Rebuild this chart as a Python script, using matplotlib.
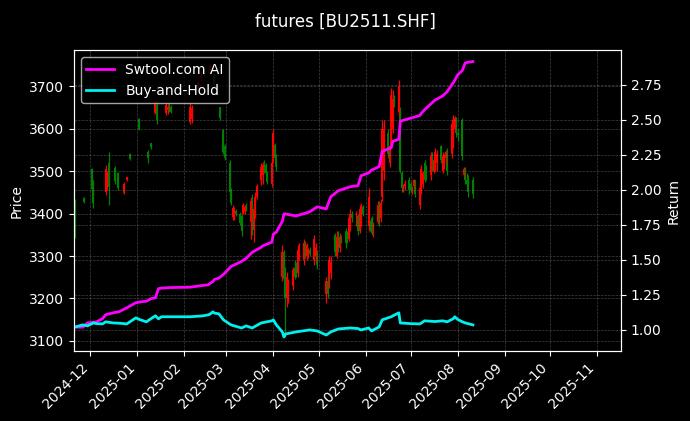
import numpy as np
import pandas as pd
import matplotlib
matplotlib.use('Agg')
import matplotlib.pyplot as plt
import matplotlib.dates as mdates

plt.style.use('dark_background')

# candle data (days with a visible bar only)
dates = [
    # Nov
    '2024-11-21', '2024-11-27',
    # Dec
    '2024-12-02', '2024-12-03', '2024-12-11', '2024-12-12', '2024-12-13', '2024-12-17',
    '2024-12-19', '2024-12-23', '2024-12-25', '2024-12-27',
    # Jan
    '2025-01-02', '2025-01-08', '2025-01-10', '2025-01-13', '2025-01-14', '2025-01-20',
    '2025-01-21', '2025-01-22', '2025-01-23',
    # Feb
    '2025-02-05', '2025-02-06', '2025-02-10', '2025-02-12', '2025-02-14', '2025-02-18',
    '2025-02-20', '2025-02-21', '2025-02-25', '2025-02-27', '2025-02-28',
    # Mar
    '2025-03-03', '2025-03-04', '2025-03-05', '2025-03-06', '2025-03-07', '2025-03-10',
    '2025-03-11', '2025-03-12', '2025-03-13', '2025-03-14', '2025-03-17', '2025-03-18',
    '2025-03-19', '2025-03-20', '2025-03-21', '2025-03-24', '2025-03-25', '2025-03-26',
    '2025-03-27', '2025-03-28', '2025-03-31',
    # Apr
    '2025-04-01', '2025-04-02', '2025-04-03', '2025-04-07', '2025-04-08', '2025-04-09',
    '2025-04-10', '2025-04-11', '2025-04-14', '2025-04-15', '2025-04-16', '2025-04-17',
    '2025-04-18', '2025-04-21', '2025-04-22', '2025-04-23', '2025-04-24', '2025-04-25',
    '2025-04-28', '2025-04-29', '2025-04-30',
    # May
    '2025-05-06', '2025-05-07', '2025-05-08', '2025-05-09', '2025-05-12', '2025-05-13',
    '2025-05-14', '2025-05-15', '2025-05-16', '2025-05-19', '2025-05-20', '2025-05-21',
    '2025-05-22', '2025-05-23', '2025-05-26', '2025-05-27', '2025-05-28', '2025-05-29',
    '2025-05-30',
    # Jun
    '2025-06-03', '2025-06-04', '2025-06-05', '2025-06-06', '2025-06-09', '2025-06-10',
    '2025-06-11', '2025-06-12', '2025-06-13', '2025-06-16', '2025-06-17', '2025-06-18',
    '2025-06-19', '2025-06-20', '2025-06-23', '2025-06-24', '2025-06-25', '2025-06-26',
    '2025-06-27', '2025-06-30',
    # Jul
    '2025-07-01', '2025-07-02', '2025-07-03', '2025-07-04', '2025-07-07', '2025-07-08',
    '2025-07-09', '2025-07-10', '2025-07-11', '2025-07-14', '2025-07-15', '2025-07-16',
    '2025-07-17', '2025-07-18', '2025-07-21', '2025-07-22', '2025-07-23', '2025-07-24',
    '2025-07-25', '2025-07-28', '2025-07-29', '2025-07-30', '2025-07-31',
    # Aug
    '2025-08-01', '2025-08-04', '2025-08-05', '2025-08-06', '2025-08-07', '2025-08-08',
    '2025-08-11',
]

opens = [
    3422, 3437,
    3505, 3468, 3450, 3470, 3520, 3508, 3495, 3449, 3478, 3541,
    3622, 3545, 3566, 3638, 3655, 3638, 3644, 3650, 3652,
    3615, 3622, 3700, 3720, 3735, 3740, 3750, 3725, 3650, 3596, 3560,
    3520, 3455, 3392, 3390, 3405, 3400, 3395, 3400, 3405, 3415, 3380, 3430,
    3362, 3400, 3440, 3478, 3490, 3520, 3515, 3495, 3470,
    3530, 3562, 3530, 3250, 3310, 3250, 3200, 3208, 3230, 3272, 3275, 3260,
    3300, 3290, 3330, 3300, 3300, 3315, 3290, 3300, 3310,
    3210, 3240, 3230, 3260, 3350, 3300, 3350, 3320, 3345, 3360, 3350, 3340,
    3370, 3400, 3375, 3395, 3360, 3380, 3415,
    3370, 3380, 3390, 3360, 3380, 3410, 3390, 3440, 3500, 3590, 3520, 3560,
    3600, 3670, 3640, 3640, 3495, 3460, 3465, 3480,
    3470, 3455, 3465, 3478, 3420, 3450, 3470, 3520, 3510, 3490, 3530, 3500,
    3510, 3520, 3560, 3500, 3510, 3530, 3545, 3540, 3560, 3600, 3625,
    3590, 3620, 3490, 3505, 3480, 3485, 3480,
]
highs = [
    3434, 3440,
    3508, 3480, 3514, 3500, 3545, 3511, 3498, 3474, 3487, 3543,
    3626, 3550, 3567, 3668, 3668, 3662, 3658, 3660, 3655,
    3660, 3656, 3712, 3735, 3745, 3752, 3753, 3730, 3652, 3600, 3565,
    3526, 3460, 3420, 3415, 3410, 3404, 3398, 3425, 3420, 3425, 3440, 3445,
    3420, 3450, 3470, 3520, 3522, 3525, 3520, 3500, 3530,
    3600, 3566, 3540, 3326, 3315, 3275, 3262, 3245, 3275, 3290, 3285, 3325,
    3330, 3340, 3336, 3330, 3320, 3322, 3350, 3330, 3315,
    3250, 3255, 3300, 3300, 3355, 3360, 3360, 3355, 3350, 3365, 3358, 3400,
    3410, 3405, 3405, 3400, 3420, 3425, 3420,
    3460, 3385, 3395, 3380, 3430, 3430, 3435, 3620, 3620, 3600, 3570, 3695,
    3690, 3680, 3714, 3650, 3500, 3470, 3480, 3485,
    3475, 3465, 3482, 3480, 3470, 3515, 3500, 3525, 3515, 3545, 3545, 3530,
    3555, 3550, 3562, 3545, 3540, 3550, 3555, 3620, 3632, 3630, 3628,
    3600, 3625, 3510, 3510, 3495, 3490, 3485,
]
lows = [
    3342, 3424,
    3450, 3414, 3443, 3455, 3420, 3470, 3455, 3446, 3477, 3525,
    3596, 3520, 3553, 3634, 3612, 3632, 3634, 3640, 3636,
    3612, 3614, 3690, 3712, 3722, 3730, 3735, 3700, 3620, 3540, 3526,
    3440, 3420, 3385, 3385, 3395, 3373, 3348, 3398, 3400, 3405, 3340, 3350,
    3332, 3390, 3435, 3468, 3470, 3495, 3490, 3470, 3462,
    3520, 3525, 3500, 3240, 3236, 3110, 3180, 3190, 3220, 3245, 3250, 3250,
    3290, 3280, 3295, 3290, 3295, 3300, 3280, 3285, 3270,
    3190, 3200, 3225, 3245, 3300, 3295, 3310, 3310, 3330, 3320, 3330, 3335,
    3360, 3380, 3370, 3350, 3355, 3370, 3395,
    3360, 3360, 3350, 3345, 3375, 3370, 3380, 3430, 3480, 3530, 3510, 3555,
    3590, 3650, 3627, 3495, 3450, 3450, 3455, 3445,
    3450, 3445, 3460, 3440, 3410, 3445, 3460, 3475, 3480, 3480, 3500, 3495,
    3500, 3500, 3520, 3495, 3505, 3520, 3490, 3530, 3555, 3595, 3580,
    3570, 3525, 3485, 3470, 3465, 3440, 3437,
]
closes = [
    3358, 3428,
    3458, 3424, 3505, 3492, 3462, 3476, 3460, 3470, 3485, 3528,
    3600, 3530, 3556, 3660, 3620, 3655, 3652, 3646, 3640,
    3652, 3648, 3708, 3730, 3728, 3748, 3740, 3705, 3625, 3545, 3530,
    3450, 3425, 3412, 3405, 3400, 3378, 3360, 3420, 3415, 3410, 3430, 3372,
    3410, 3440, 3465, 3510, 3515, 3500, 3495, 3475, 3520,
    3590, 3530, 3510, 3310, 3245, 3200, 3250, 3236, 3266, 3250, 3256, 3315,
    3320, 3330, 3300, 3325, 3315, 3305, 3340, 3320, 3280,
    3240, 3210, 3290, 3285, 3310, 3345, 3320, 3345, 3340, 3330, 3335, 3390,
    3400, 3390, 3395, 3360, 3410, 3415, 3400,
    3440, 3365, 3355, 3370, 3420, 3380, 3425, 3600, 3600, 3540, 3560, 3680,
    3670, 3660, 3700, 3500, 3460, 3465, 3470, 3455,
    3455, 3460, 3478, 3445, 3460, 3505, 3495, 3480, 3490, 3535, 3505, 3525,
    3545, 3540, 3525, 3535, 3530, 3545, 3500, 3610, 3620, 3625, 3590,
    3585, 3535, 3505, 3480, 3470, 3450, 3445,
]

# return curves
ret_dates = [
    '2024-11-20', '2024-11-26', '2024-11-29', '2024-12-03', '2024-12-05', '2024-12-09',
    '2024-12-11', '2024-12-16', '2024-12-20', '2024-12-25', '2024-12-31', '2025-01-03',
    '2025-01-07', '2025-01-10', '2025-01-13', '2025-01-15', '2025-01-17', '2025-01-22',
    '2025-02-05', '2025-02-13', '2025-02-17', '2025-02-18', '2025-02-20', '2025-02-21',
    '2025-02-24', '2025-02-27', '2025-03-04', '2025-03-11', '2025-03-14', '2025-03-18',
    '2025-03-24', '2025-03-25', '2025-03-31', '2025-04-01', '2025-04-03', '2025-04-07',
    '2025-04-08', '2025-04-09', '2025-04-16', '2025-04-25', '2025-04-30', '2025-05-06',
    '2025-05-09', '2025-05-14', '2025-05-22', '2025-05-27', '2025-05-29', '2025-06-03',
    '2025-06-05', '2025-06-10', '2025-06-12', '2025-06-18', '2025-06-19', '2025-06-23',
    '2025-06-24', '2025-07-01', '2025-07-07', '2025-07-08', '2025-07-10', '2025-07-17',
    '2025-07-22', '2025-07-25', '2025-07-29', '2025-07-30', '2025-08-01', '2025-08-04',
    '2025-08-06', '2025-08-11',
]
strategy_ret = [
    1.02, 1.02, 1.05, 1.055, 1.058, 1.08,
    1.108, 1.122, 1.13, 1.158, 1.194, 1.20,
    1.205, 1.223, 1.23, 1.295, 1.298, 1.302,
    1.305, 1.317, 1.322, 1.331, 1.345, 1.36,
    1.37, 1.396, 1.453, 1.489, 1.51, 1.554,
    1.59, 1.60, 1.626, 1.683, 1.698, 1.777,
    1.827, 1.827, 1.813, 1.842, 1.878, 1.863,
    1.95, 1.993, 2.022, 2.029, 2.10, 2.12,
    2.14, 2.165, 2.273, 2.30, 2.345, 2.36,
    2.489, 2.511, 2.53, 2.547, 2.57, 2.64,
    2.669, 2.70, 2.763, 2.78, 2.82, 2.85,
    2.906, 2.914,
]
bh_ret = [
    1.019, 1.036, 1.029, 1.050, 1.045, 1.043,
    1.058, 1.050, 1.048, 1.043, 1.086, 1.072,
    1.058, 1.080, 1.101, 1.079, 1.094, 1.094,
    1.094, 1.100, 1.108, 1.112, 1.129, 1.120,
    1.115, 1.072, 1.036, 1.014, 1.029, 1.014,
    1.050, 1.052, 1.065, 1.072, 1.036, 0.985,
    0.950, 0.971, 0.986, 1.000, 0.993, 0.964,
    0.986, 1.007, 1.014, 1.010, 1.000, 1.014,
    0.993, 1.022, 1.072, 1.094, 1.100, 1.122,
    1.050, 1.045, 1.043, 1.050, 1.065, 1.060,
    1.065, 1.058, 1.080, 1.094, 1.075, 1.058,
    1.050, 1.036,
]

x = mdates.date2num(pd.to_datetime(dates))
o = np.array(opens, dtype=float)
h = np.array(highs, dtype=float)
l = np.array(lows, dtype=float)
c = np.array(closes, dtype=float)
cols = np.where(c >= o, 'red', 'green')

fig = plt.figure(figsize=(6.9, 4.21), dpi=100)
ax = fig.add_axes([0.107, 0.166, 0.793, 0.715])
ax2 = ax.twinx()

ax.vlines(x, l, h, colors=cols, linewidth=0.9)
ax.bar(x, np.abs(c - o), bottom=np.minimum(o, c), width=1.3, color=cols, linewidth=0)

rx = pd.to_datetime(ret_dates)
l1, = ax2.plot(rx, strategy_ret, color='#ff00ff', linewidth=2, label='Swtool.com AI')
l2, = ax2.plot(rx, bh_ret, color='#00f0f0', linewidth=2, label='Buy-and-Hold')

ax.set_ylim(3076, 3785)
ax2.set_ylim(0.849, 2.996)
ax.set_xlim(pd.Timestamp('2024-11-20'), pd.Timestamp('2025-11-17'))

ax.xaxis.set_major_locator(mdates.MonthLocator())
ax.xaxis.set_major_formatter(mdates.DateFormatter('%Y-%m'))
plt.setp(ax.get_xticklabels(), rotation=45, ha='right')

ax.set_ylabel('Price')
ax2.set_ylabel('Return')
ax.grid(True, linestyle='--', linewidth=0.5, color='gray', alpha=0.5)
ax2.grid(True, linestyle='--', linewidth=0.5, color='gray', alpha=0.5)

ax2.legend(handles=[l1, l2], loc='upper left')
fig.suptitle('futures [BU2511.SHF]', fontsize=12, y=0.97)

fig.savefig('out.png', dpi=100, facecolor='black')
